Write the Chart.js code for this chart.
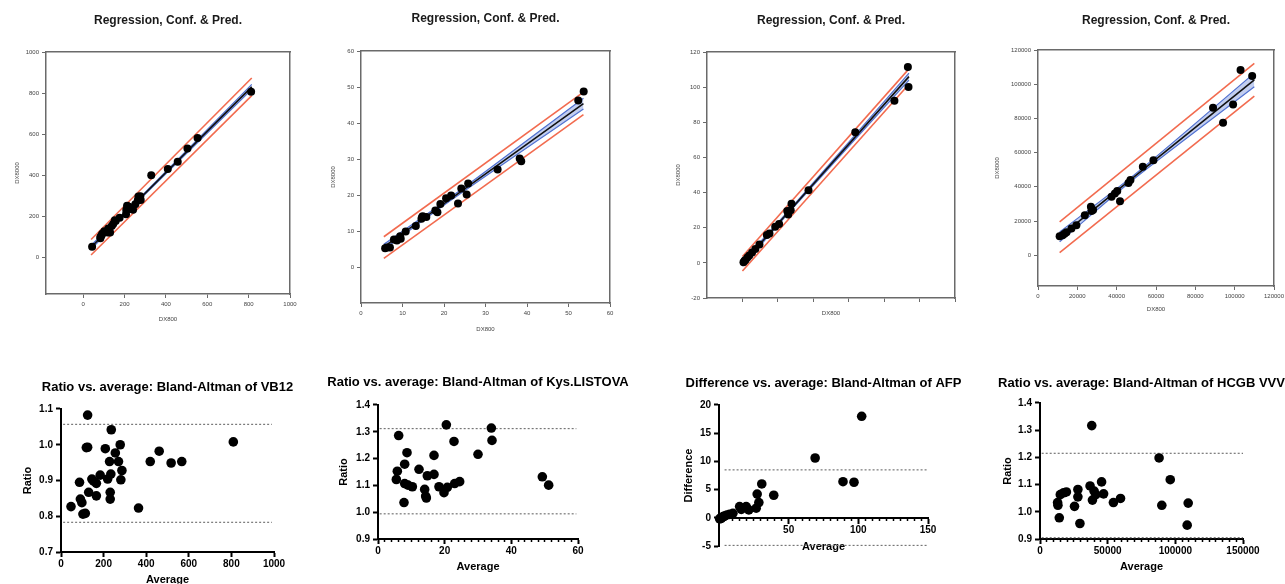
<!DOCTYPE html>
<html><head><meta charset="utf-8">
<script src="https://cdn.jsdelivr.net/npm/chart.js@4.4.1/dist/chart.umd.min.js"></script>
<style>
html,body{margin:0;padding:0;background:#fff;overflow:hidden;width:1285px;height:584px;position:relative;}
canvas{position:absolute;}
</style></head><body>
<script>
const FONT = "'Liberation Sans', Arial, Helvetica, sans-serif";

// ===== Top row: regression with confidence & prediction bands =====
const regTitle = 'Regression, Conf. & Pred.';
const xName = 'DX800';
const yName = 'DX8000';

// VB12
const vb12DX800  = [43, 83, 83, 89, 92, 102, 130, 125, 119, 121, 138, 145, 157, 153, 176, 207, 208, 223, 224, 215, 212, 241, 252, 264, 278, 267, 276, 329, 409, 457, 504, 553, 812];
const vb12DX8000 = [51, 92, 98, 107, 114, 126, 120, 125, 120, 139, 152, 161, 176, 179, 192, 209, 230, 234, 244, 248, 250, 231, 258, 277, 278, 296, 297, 399, 429, 465, 530, 581, 806];
const vb12RegX = [38, 815],        vb12RegY = [48, 830];
const vb12ConfX = [38, 250, 815],  vb12ConfUp = [57, 265, 842], vb12ConfLo = [39, 257, 818];
const vb12PredX = [38, 815],       vb12PredUp = [86, 873], vb12PredLo = [10, 787];
const vb12Ticks = [0, 200, 400, 600, 800, 1000];

// Kys.LISTOVA
const kysDX800  = [5.82, 6.21, 6.97, 8.66, 7.94, 8.41, 9.57, 9.43, 10.77, 13.21, 14.57, 14.72, 14.87, 15.74, 17.91, 18.41, 19.13, 20.5, 23.37, 21.72, 25.46, 24.17, 25.82, 32.92, 38.61, 38.24, 52.35, 53.66];
const kysDX8000 = [5.18, 5.39, 5.42, 7.34, 7.66, 7.59, 7.83, 8.57, 9.83, 11.39, 13.43, 13.88, 14.13, 13.86, 15.69, 15.19, 17.47, 19.1, 17.63, 19.88, 20.14, 21.83, 23.18, 27.08, 29.39, 30.16, 46.25, 48.74];
const kysRegX = [5.5, 53.6],       kysRegY = [5.6, 45.4];
const kysConfX = [5.5, 22, 53.6],  kysConfUp = [6.3, 19.7, 46.9], kysConfLo = [4.9, 18.8, 43.9];
const kysPredX = [5.5, 53.6],      kysPredUp = [8.4, 48.6], kysPredLo = [2.4, 42.3];
const kysTicks = [0, 10, 20, 30, 40, 50, 60];

// AFP
const afpDX800  = [0.6, 1.2, 1.75, 2.8, 3.85, 5.45, 7.3, 9.6, 13.8, 15.25, 18.5, 20.7, 25.85, 25.3, 27.25, 27.7, 37.3, 63.7, 85.8, 93.75, 93.4];
const afpDX8000 = [0.4, 1.2, 1.65, 3.0, 4.15, 5.95, 7.9, 10.4, 15.8, 16.75, 20.5, 22.1, 27.55, 29.5, 29.95, 33.7, 41.3, 74.3, 92.2, 100.05, 111.4];
const afpRegX = [0, 94],           afpRegY = [-0.5, 106];
const afpConfX = [0, 30, 94],      afpConfUp = [0.8, 34.1, 108], afpConfLo = [-1.8, 32.9, 104];
const afpPredX = [0, 94],          afpPredUp = [3.6, 110.4], afpPredLo = [-4.6, 101.6];
const afpXTicks = [0, 20, 40, 60, 80, 100, 120];
const afpYTicks = [-20, 0, 20, 40, 60, 80, 100, 120];

// HCGB
const hcgDX800  = [11000, 12500, 13500, 14500, 17000, 19500, 23800, 26900, 27200, 28000, 37400, 39100, 40300, 41700, 46000, 47000, 53300, 58700, 89000, 94100, 99200, 103000, 108900];
const hcgDX8000 = [11100, 11700, 12500, 13500, 15600, 17500, 23400, 28300, 25800, 26500, 34200, 36100, 37500, 31600, 42300, 44000, 51700, 55600, 86200, 77500, 88200, 108300, 104800];
const hcgRegX = [11000, 110000],          hcgRegY = [10700, 102500];
const hcgConfX = [11000, 50000, 110000],  hcgConfUp = [13600, 48000, 106500], hcgConfLo = [7800, 45700, 98500];
const hcgPredX = [11000, 110000],         hcgPredUp = [19500, 112200], hcgPredLo = [1500, 93000];
const hcgTicks = [0, 20000, 40000, 60000, 80000, 100000, 120000];

// ===== Bottom row: Bland-Altman =====
const vb12BATitle = 'Ratio vs. average: Bland-Altman of VB12';
const vb12Avg   = [47, 87, 91, 98, 103, 114, 125, 125, 119, 130, 145, 153, 166, 166, 184, 208, 219, 228, 234, 231, 231, 236, 255, 270, 278, 281, 286, 364, 419, 461, 517, 567, 809];
const vb12Ratio = [0.827, 0.895, 0.848, 0.838, 0.806, 0.808, 1.083, 0.993, 0.992, 0.867, 0.904, 0.898, 0.892, 0.857, 0.915, 0.989, 0.904, 0.953, 0.918, 0.867, 0.848, 1.042, 0.977, 0.953, 1.0, 0.902, 0.928, 0.823, 0.953, 0.982, 0.949, 0.953, 1.008];
const vb12Limits = [1.057, 0.783];
const vb12LimitSpan = [10, 990];
const vb12AvgTicks = [0, 200, 400, 600, 800, 1000];
const vb12RatioTicks = [0.7, 0.8, 0.9, 1.0, 1.1];

const kysBATitle = 'Ratio vs. average: Bland-Altman of Kys.LISTOVA';
const kysAvg   = [5.5, 5.8, 6.2, 8.0, 7.8, 8.0, 8.7, 9.0, 10.3, 12.3, 14.0, 14.3, 14.5, 14.8, 16.8, 16.8, 18.3, 19.8, 20.5, 20.8, 22.8, 23.0, 24.5, 30.0, 34.0, 34.2, 49.3, 51.2];
const kysRatio = [1.122, 1.153, 1.286, 1.179, 1.036, 1.107, 1.222, 1.101, 1.095, 1.160, 1.085, 1.060, 1.053, 1.136, 1.141, 1.212, 1.095, 1.073, 1.326, 1.093, 1.264, 1.107, 1.114, 1.216, 1.314, 1.268, 1.132, 1.101];
const kysLimits = [1.312, 0.994];
const kysLimitSpan = [0.5, 59.5];
const kysAvgTicks = [0, 20, 40, 60];
const kysAvgMinor = [2, 4, 6, 8, 10, 12, 14, 16, 18, 22, 24, 26, 28, 30, 32, 34, 36, 38, 42, 44, 46, 48, 50, 52, 54, 56, 58];
const kysRatioTicks = [0.9, 1.0, 1.1, 1.2, 1.3, 1.4];

const afpBATitle = 'Difference vs. average: Bland-Altman of AFP';
const afpAvg  = [0.5, 1.2, 1.7, 2.9, 4.0, 5.7, 7.6, 10.0, 14.8, 16.0, 19.5, 21.4, 26.7, 27.4, 28.6, 30.7, 39.3, 69.0, 89.0, 96.9, 102.4];
const afpDiff = [-0.2, 0.0, -0.1, 0.2, 0.3, 0.5, 0.6, 0.8, 2.0, 1.5, 2.0, 1.4, 1.7, 4.2, 2.7, 6.0, 4.0, 10.6, 6.4, 6.3, 18.0];
const afpLimits = [8.5, -4.9];
const afpLimitSpan = [4, 149];
const afpAvgTicks = [50, 100, 150];
const afpAvgMinor = [5, 10, 15, 20, 25, 30, 35, 40, 45, 55, 60, 65, 70, 75, 80, 85, 90, 95, 105, 110, 115, 120, 125, 130, 135, 140, 145];
const afpDiffTicks = [-5, 0, 5, 10, 15, 20];

const hcgBATitle = 'Ratio vs. average: Bland-Altman of HCGB VVV';
const hcgAvg   = [13000, 13250, 14250, 15000, 17500, 19500, 25500, 28000, 28000, 29500, 37000, 38250, 38750, 40000, 41250, 45500, 47000, 54250, 59500, 88000, 90000, 96250, 108750, 109500];
const hcgRatio = [1.034, 1.024, 0.978, 1.063, 1.070, 1.073, 1.020, 1.082, 1.055, 0.957, 1.095, 1.317, 1.043, 1.076, 1.063, 1.110, 1.066, 1.034, 1.049, 1.198, 1.024, 1.118, 0.951, 1.032];
const hcgLimits = [1.215, 0.905];
const hcgLimitSpan = [1250, 150000];
const hcgAvgTicks = [0, 50000, 100000, 150000];
const hcgAvgMinor = [5000, 10000, 15000, 20000, 25000, 30000, 35000, 40000, 45000, 55000, 60000, 65000, 70000, 75000, 80000, 85000, 90000, 95000, 105000, 110000, 115000, 120000, 125000, 130000, 135000, 140000, 145000];
const ratioTicksHigh = [0.9, 1.0, 1.1, 1.2, 1.3, 1.4];

// ===== helpers =====
const zip = (xs, ys) => xs.map((x, i) => ({x: x, y: ys[i]}));
const fixW = w => s => { s.width = w; s.paddingTop = 0; s.paddingBottom = 0; s.paddingLeft = 0; s.paddingRight = 0; };
const fixH = h => s => { s.height = h; s.paddingLeft = 0; s.paddingRight = 0; s.paddingTop = 0; s.paddingBottom = 0; };
const useTicks = vals => s => { s.ticks = vals.map(v => ({value: v})); };
const plain = v => String(v);
const oneDec = v => Number(v).toFixed(1);

function pointsDS(xs, ys, r) {
  return {type: 'scatter', data: zip(xs, ys), pointRadius: r, pointHoverRadius: r,
    backgroundColor: '#000', borderColor: '#000', borderWidth: 0,
    xAxisID: 'x', yAxisID: 'y', clip: false, order: 0};
}
function lineDS(xs, ys, color, width, extra) {
  return Object.assign({type: 'line', data: zip(xs, ys), borderColor: color, borderWidth: width,
    pointRadius: 0, pointHoverRadius: 0, fill: false, tension: 0,
    xAxisID: 'x', yAxisID: 'y', order: 2}, extra || {});
}

const PRED = '#f26b4f', CONF = '#4f6fcf', CONF_FILL = 'rgba(95,125,215,0.38)', REG = '#111';
function regDatasets(px, py, rx, ry, cx, cu, cl, qx, qu, ql) {
  return [
    pointsDS(px, py, 4),
    lineDS(rx, ry, REG, 1.6, {order: 1}),
    lineDS(cx, cu, CONF, 1.2, {fill: '+1', backgroundColor: CONF_FILL, tension: 0.3, order: 3}),
    lineDS(cx, cl, CONF, 1.2, {tension: 0.3, order: 3}),
    lineDS(qx, qu, PRED, 1.6, {order: 2}),
    lineDS(qx, ql, PRED, 1.6, {order: 2})
  ];
}
function baDatasets(ax, vy, limits, span) {
  const dotted = {borderDash: [2, 2], order: 2};
  return [
    pointsDS(ax, vy, 4.8),
    lineDS(span, [limits[0], limits[0]], '#777', 1.2, dotted),
    lineDS(span, [limits[1], limits[1]], '#777', 1.2, dotted)
  ];
}

function panel(p) {
  const [L, T, R, B] = p.plot;
  const cx = L - p.yW, cw = (R - L) + 2 * p.yW;
  const ch = B + p.xH - p.canvasTop;
  const lh = p.titleSize * 1.2;
  const c = document.createElement('canvas');
  c.width = cw; c.height = ch;
  c.style.left = cx + 'px'; c.style.top = p.canvasTop + 'px';
  c.style.width = cw + 'px'; c.style.height = ch + 'px';
  document.body.appendChild(c);

  const top = p.kind === 'top';
  const axisColor = top ? '#6a6a6a' : '#000';
  const axisWidth = top ? 1.5 : 2;
  const tickFont = top ? {family: FONT, size: 6} : {family: FONT, size: 10, weight: 'bold'};
  const axTitleFont = top ? {family: FONT, size: 6} : {family: FONT, size: 11, weight: 'bold'};
  const labelColor = top ? '#444' : '#000';
  const tl = top ? 4 : 5;

  const scales = {
    x: {
      type: 'linear', position: p.x.position || 'bottom', min: p.x.min, max: p.x.max,
      afterBuildTicks: useTicks(p.x.ticks), afterFit: fixH(p.xH), z: 1,
      border: {display: true, color: axisColor, width: axisWidth},
      grid: {display: true, drawOnChartArea: false, drawTicks: true, tickLength: tl, tickWidth: top ? 1 : 2, tickColor: axisColor},
      ticks: {display: p.x.showLabels !== false, autoSkip: false, maxRotation: 0, padding: p.x.labelPad, font: tickFont, color: labelColor, callback: p.x.fmt || plain},
      title: {display: true, text: p.x.title, font: axTitleFont, color: labelColor, padding: {top: 0, bottom: 0}}
    },
    y: {
      type: 'linear', position: 'left', min: p.y.min, max: p.y.max,
      afterBuildTicks: useTicks(p.y.ticks), afterFit: fixW(p.yW),
      border: {display: true, color: axisColor, width: axisWidth},
      grid: {display: true, drawOnChartArea: false, drawTicks: true, tickLength: tl, tickWidth: top ? 1 : 2, tickColor: axisColor},
      ticks: {autoSkip: false, padding: 3, font: tickFont, color: labelColor, callback: p.y.fmt || plain},
      title: {display: true, text: p.y.title, font: axTitleFont, color: labelColor, padding: {top: p.y.titlePad, bottom: 0}}
    },
    yr: {
      type: 'linear', position: 'right', min: 0, max: 1, afterFit: fixW(p.yW),
      border: {display: top, color: axisColor, width: axisWidth},
      grid: {display: false}, ticks: {display: false}
    }
  };
  if (top) {
    scales.xt = {
      type: 'linear', position: 'top', min: 0, max: 1, afterFit: fixH(0),
      border: {display: true, color: axisColor, width: axisWidth},
      grid: {display: false}, ticks: {display: false}
    };
  }
  if (p.x.minor) {
    scales.xm = {
      type: 'linear', axis: 'x', position: {y: p.x.minorAt}, min: p.x.min, max: p.x.max,
      afterBuildTicks: useTicks(p.x.minor), afterFit: fixH(0),
      border: {display: false},
      grid: {display: true, drawOnChartArea: false, drawTicks: true, tickLength: 3, tickWidth: 1.5, tickColor: '#000'},
      ticks: {display: false}
    };
  }

  return new Chart(c, {
    type: 'scatter',
    data: {datasets: p.datasets},
    options: {
      responsive: false, maintainAspectRatio: false, animation: false, devicePixelRatio: 1, events: [],
      layout: {padding: {left: 0, right: 0, top: 0, bottom: p.padBottom || 0}},
      scales: scales,
      plugins: {
        legend: {display: false}, tooltip: {enabled: false},
        title: {display: true, text: p.title, color: top ? '#1a1a1a' : '#000',
          font: {family: FONT, size: p.titleSize, weight: 'bold', lineHeight: 1.2},
          padding: {top: p.titleY - lh / 2 - p.canvasTop, bottom: T - p.titleY - lh / 2}}
      }
    }
  });
}

// ===== top row =====
panel({kind: 'top', plot: [46, 52, 290, 294], yW: 40, xH: 29, canvasTop: 0, titleY: 21, title: regTitle, titleSize: 12,
  x: {min: -180, max: 1000, ticks: vb12Ticks, title: xName, labelPad: 3},
  y: {min: -180, max: 1000, ticks: vb12Ticks, title: yName, titlePad: 7.4},
  datasets: regDatasets(vb12DX800, vb12DX8000, vb12RegX, vb12RegY, vb12ConfX, vb12ConfUp, vb12ConfLo, vb12PredX, vb12PredUp, vb12PredLo)});

panel({kind: 'top', plot: [361, 51, 610, 303], yW: 40, xH: 30, canvasTop: 0, titleY: 19, title: regTitle, titleSize: 12,
  x: {min: 0, max: 60, ticks: kysTicks, title: xName, labelPad: 3},
  y: {min: -10, max: 60, ticks: kysTicks, title: yName, titlePad: 8.4},
  datasets: regDatasets(kysDX800, kysDX8000, kysRegX, kysRegY, kysConfX, kysConfUp, kysConfLo, kysPredX, kysPredUp, kysPredLo)});

panel({kind: 'top', plot: [707, 52, 955, 298], yW: 40, xH: 19, canvasTop: 0, titleY: 21, title: regTitle, titleSize: 12,
  x: {min: -20, max: 120, ticks: afpXTicks, title: xName, showLabels: false, labelPad: 3},
  y: {min: -20, max: 120, ticks: afpYTicks, title: yName, titlePad: 7.4},
  datasets: regDatasets(afpDX800, afpDX8000, afpRegX, afpRegY, afpConfX, afpConfUp, afpConfLo, afpPredX, afpPredUp, afpPredLo)});

panel({kind: 'top', plot: [1038, 50, 1274, 286], yW: 45, xH: 27, canvasTop: 0, titleY: 21, title: regTitle, titleSize: 12,
  x: {min: 0, max: 120000, ticks: hcgTicks, title: xName, labelPad: 3},
  y: {min: -18000, max: 120000, ticks: hcgTicks, title: yName, titlePad: 0.4},
  datasets: regDatasets(hcgDX800, hcgDX8000, hcgRegX, hcgRegY, hcgConfX, hcgConfUp, hcgConfLo, hcgPredX, hcgPredUp, hcgPredLo)});

// ===== bottom row =====
panel({kind: 'bottom', plot: [61, 409, 274, 552], yW: 60, xH: 35, canvasTop: 360, titleY: 387, title: vb12BATitle, titleSize: 13,
  x: {min: 0, max: 1000, ticks: vb12AvgTicks, title: 'Average', labelPad: 1},
  y: {min: 0.7, max: 1.1, ticks: vb12RatioTicks, title: 'Ratio', titlePad: 20, fmt: oneDec},
  datasets: baDatasets(vb12Avg, vb12Ratio, vb12Limits, vb12LimitSpan)});

panel({kind: 'bottom', plot: [378, 405, 578, 539], yW: 60, xH: 35, canvasTop: 360, titleY: 382, title: kysBATitle, titleSize: 13,
  x: {min: 0, max: 60, ticks: kysAvgTicks, title: 'Average', labelPad: 1, minor: kysAvgMinor, minorAt: 0.9},
  y: {min: 0.9, max: 1.4, ticks: kysRatioTicks, title: 'Ratio', titlePad: 19, fmt: oneDec},
  datasets: baDatasets(kysAvg, kysRatio, kysLimits, kysLimitSpan)});

panel({kind: 'bottom', plot: [719, 405, 928, 546], yW: 60, xH: 36, padBottom: 36, canvasTop: 360, titleY: 383, title: afpBATitle, titleSize: 13,
  x: {min: 0, max: 150, ticks: afpAvgTicks, title: 'Average', labelPad: 1, position: {y: 0}, minor: afpAvgMinor, minorAt: 0},
  y: {min: -5, max: 20, ticks: afpDiffTicks, title: 'Difference', titlePad: 23},
  datasets: baDatasets(afpAvg, afpDiff, afpLimits, afpLimitSpan)});

panel({kind: 'bottom', plot: [1040, 403, 1243, 539], yW: 60, xH: 35, canvasTop: 360, titleY: 383, title: hcgBATitle, titleSize: 13,
  x: {min: 0, max: 150000, ticks: hcgAvgTicks, title: 'Average', labelPad: 1, minor: hcgAvgMinor, minorAt: 0.9},
  y: {min: 0.9, max: 1.4, ticks: ratioTicksHigh, title: 'Ratio', titlePad: 21, fmt: oneDec},
  datasets: baDatasets(hcgAvg, hcgRatio, hcgLimits, hcgLimitSpan)});
</script>
</body></html>
